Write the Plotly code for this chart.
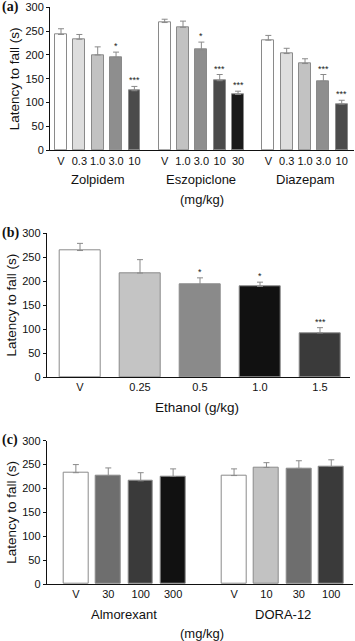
import plotly.graph_objects as go

# ---------------- data ----------------
# Panel (a)
a_groups = ["Zolpidem", "Eszopiclone", "Diazepam"]
a_doses = [["V", "0.3", "1.0", "3.0", "10"],
           ["V", "1.0", "3.0", "10", "30"],
           ["V", "0.3", "1.0", "3.0", "10"]]
a_means = [[243, 233, 200, 195, 125],
           [268, 258, 211, 146, 117],
           [231, 203, 182, 145, 97]]
a_sem = [[12, 10, 17, 11, 9],
         [7, 13, 16, 13, 7],
         [10, 11, 10, 14, 8]]
a_sig = [["", "", "", "*", "***"],
         ["", "", "*", "***", "***"],
         ["", "", "", "***", "***"]]
a_colors = [["#ffffff", "#dedede", "#c2c2c2", "#8e8e8e", "#4b4b4b"],
            ["#ffffff", "#c2c2c2", "#8e8e8e", "#4b4b4b", "#1a1a1a"],
            ["#ffffff", "#dedede", "#c2c2c2", "#8e8e8e", "#4b4b4b"]]

# Panel (b)
b_doses = ["V", "0.25", "0.5", "1.0", "1.5"]
b_means = [264, 217, 193, 189, 92]
b_sem = [15, 28, 14, 9, 11]
b_sig = ["", "", "*", "*", "***"]
b_colors = ["#ffffff", "#c4c4c4", "#8a8a8a", "#111111", "#3a3a3a"]

# Panel (c)
c_groups = ["Almorexant", "DORA-12"]
c_doses = [["V", "30", "100", "300"], ["V", "10", "30", "100"]]
c_means = [[233, 227, 216, 225], [227, 244, 242, 246]]
c_sem = [[17, 16, 17, 16], [14, 10, 16, 14]]
c_colors = [["#ffffff", "#6e6e6e", "#3a3a3a", "#111111"],
            ["#ffffff", "#c2c2c2", "#6e6e6e", "#3a3a3a"]]

y_ticks = [0, 50, 100, 150, 200, 250, 300]

# ---------------- figure ----------------
W, H = 355, 641
FONT = "Liberation Sans, Arial, sans-serif"
fig = go.Figure()
annotations = []

def py(pix):
    return 1 - pix / H

def px(pix):
    return pix / W

def add_bars(xpos, means, sems, colors, xa, ya, width):
    fig.add_trace(go.Bar(
        x=xpos, y=means, width=width,
        marker=dict(color=colors, line=dict(color="#8a8a8a", width=1)),
        error_y=dict(type="data", symmetric=False, array=sems,
                     arrayminus=[0] * len(sems), color="#8a8a8a",
                     thickness=1, width=3),
        xaxis=xa, yaxis=ya, showlegend=False, hoverinfo="skip"))

def add_stars(xpos, means, sems, sigs, xref, yref):
    for x, m, s, g in zip(xpos, means, sems, sigs):
        if g:
            annotations.append(dict(x=x, y=m + s, xref=xref, yref=yref,
                                    text=g, showarrow=False, yanchor="bottom",
                                    xanchor="center",
                                    yshift=-1, font=dict(size=9, color="#222",
                                                         family=FONT)))

def label(x, y, text, xref="paper", size=13, xanchor="center", family=FONT):
    annotations.append(dict(x=x, y=y, xref=xref, yref="paper", text=text,
                            showarrow=False, xanchor=xanchor, yanchor="middle",
                            font=dict(size=size, color="#111", family=family)))

# Panel (a)
gap_a = 5.65
xa_pos, xa_txt = [], []
for gi in range(len(a_groups)):
    pos = [gi * gap_a + i for i in range(len(a_doses[gi]))]
    add_bars(pos, a_means[gi], a_sem[gi], a_colors[gi], "x", "y", 0.64)
    add_stars(pos, a_means[gi], a_sem[gi], a_sig[gi], "x", "y")
    xa_pos += pos
    xa_txt += a_doses[gi]
    label(pos[2], py(179), a_groups[gi], xref="x")

# Panel (b)
xb_pos = list(range(len(b_doses)))
add_bars(xb_pos, b_means, b_sem, b_colors, "x2", "y2", 0.68)
add_stars(xb_pos, b_means, b_sem, b_sig, "x2", "y2")

# Panel (c)
gap_c = 4.88
xc_pos, xc_txt = [], []
for gi in range(len(c_groups)):
    pos = [gi * gap_c + i for i in range(len(c_doses[gi]))]
    add_bars(pos, c_means[gi], c_sem[gi], c_colors[gi], "x3", "y3", 0.77)
    xc_pos += pos
    xc_txt += c_doses[gi]
    label((pos[0] + pos[-1]) / 2, py(614), c_groups[gi], xref="x3")

# Panel letters and unit labels
SERIF = "Liberation Serif, Times New Roman, serif"
for lab, ypix in [("(a)", 7), ("(b)", 233), ("(c)", 440)]:
    label(px(0), py(ypix), "<b>" + lab + "</b>", size=14, xanchor="left",
          family=SERIF)
label(px(202), py(200), "(mg/kg)")
label(px(197), py(407), "Ethanol (g/kg)", size=13.5)
label(px(202), py(633), "(mg/kg)")

xcommon = dict(showline=True, linecolor="#111", linewidth=1, ticks="",
               showgrid=False, zeroline=False, automargin=False,
               tickfont=dict(size=11, color="#111", family=FONT), fixedrange=True)
ycommon = dict(showline=True, linecolor="#111", linewidth=1, ticks="outside",
               ticklen=3, tickcolor="#111", showgrid=False, zeroline=False,
               automargin=False,
               range=[0, 300], tickvals=y_ticks,
               tickfont=dict(size=11, color="#111", family=FONT),
               title=dict(text="Latency to fall (s)",
                          font=dict(size=13.5, color="#111", family=FONT),
                          standoff=2))

fig.update_layout(
    width=W, height=H, margin=dict(l=0, r=0, t=0, b=0, autoexpand=False),
    paper_bgcolor="white", plot_bgcolor="white", bargap=0, barmode="overlay",
    xaxis=dict(xcommon, domain=[px(50), px(354)], range=[-0.6, 15.97],
               tickvals=xa_pos, ticktext=xa_txt, anchor="y"),
    yaxis=dict(ycommon, domain=[py(150.3), py(7.3)], anchor="x"),
    xaxis2=dict(xcommon, domain=[px(46.7), px(350)], range=[-0.555, 4.5],
                tickvals=xb_pos, ticktext=b_doses, anchor="y2"),
    yaxis2=dict(ycommon, domain=[py(377), py(233.3)], anchor="x2"),
    xaxis3=dict(xcommon, domain=[px(46.7), px(353)], range=[-0.9, 8.55],
                tickvals=xc_pos, ticktext=xc_txt, anchor="y3"),
    yaxis3=dict(ycommon, domain=[py(584), py(440.7)], anchor="x3"),
    annotations=annotations,
)

fig.write_html("out.html", config={"displayModeBar": False},
               post_script="document.body.style.margin='0';"
                           "document.body.style.overflow='hidden';")
